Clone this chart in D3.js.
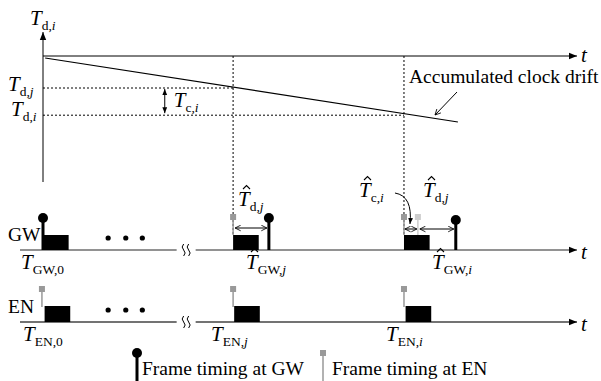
<!DOCTYPE html>
<html>
<head>
<meta charset="utf-8">
<script src="https://cdn.jsdelivr.net/npm/d3@7"></script>
<style>
  body { margin: 0; background: #fff; }
  text { font-family: "Liberation Serif", "Times New Roman", serif; fill: #000; }
</style>
</head>
<body>
<div id="chart"></div>
<script>
// 图的时间轴单位: 0..100 对应上方 t 轴
const width = 601;
const height = 381;

// 上图: 累积时钟漂移
const driftT = [0.4, 77.7];          // 漂移直线的起止时刻
const driftV = [0.25, 8.25];         // 对应漂移量
const syncT = [35.6, 67.6];          // 同步时刻 j, i
const syncDrift = [4.0, 7.4];        // T_d,j , T_d,i

// 下图: 帧
const gwFrameStart = [0, 35.6, 67.6];    // GW 帧块起点
const gwTiming = [0, 42.3, 77.3];        // GW 帧定时
const enFrameStart = [0.3, 35.8, 67.9];  // EN 帧块起点
const enTiming = [-0.2, 35.6, 67.6];     // EN 帧定时
const correctedEN = [70.2];              // 修正后的 EN 定时
const frameLen = 4.8;
const dotTimes = [12.2, 15.5, 18.6];
const breakT = 26.9;

var x = d3.scaleLinear().domain([0, 100]).range([43, 577]);
var yD = d3.scaleLinear().domain([0, 10]).range([56, 136]);

const rowGW = 250, rowEN = 322, blockH = 15;
const fs = 19.5;

var svg = d3.select("#chart").append("svg")
    .attr("width", width).attr("height", height);

define_markers();

function define_markers() {
    var defs = svg.append("defs");
    defs.append("marker").attr("id", "arrow")
        .attr("viewBox", "0 -5 10 10").attr("refX", 10).attr("refY", 0)
        .attr("markerUnits", "userSpaceOnUse")
        .attr("markerWidth", 9).attr("markerHeight", 8)
        .attr("orient", "auto-start-reverse")
        .append("path").attr("d", "M0,-4L10,0L0,4Z").attr("fill", "#000");
    defs.append("marker").attr("id", "small")
        .attr("viewBox", "0 -5 10 10").attr("refX", 10).attr("refY", 0)
        .attr("markerUnits", "userSpaceOnUse")
        .attr("markerWidth", 6).attr("markerHeight", 6)
        .attr("orient", "auto-start-reverse")
        .append("path").attr("d", "M0,-4L10,0L0,4Z").attr("fill", "#000");
    defs.append("marker").attr("id", "chev")
        .attr("viewBox", "0 -5 10 10").attr("refX", 9).attr("refY", 0)
        .attr("markerUnits", "userSpaceOnUse")
        .attr("markerWidth", 7).attr("markerHeight", 7)
        .attr("orient", "auto-start-reverse")
        .append("path").attr("d", "M1,-4L9,0L1,4").attr("fill", "none")
        .attr("stroke", "#000").attr("stroke-width", 1.2);
}

// 数学标签 T_{sub}
function mathT(px, py, sub, hat) {
    var t = svg.append("text").attr("x", px).attr("y", py);
    t.append("tspan").attr("font-style", "italic").attr("font-size", 21).text("T");
    sub.forEach(function (s, k) {
        var ts = t.append("tspan").attr("font-size", 13.5).text(s[0]);
        if (s[1]) ts.attr("font-style", "italic");
        if (k === 0) ts.attr("dy", 5);
    });
    if (hat) {
        // 帽子符号用折线画
        svg.append("path")
            .attr("d", "M" + (px + 5) + "," + (py - 17) + " l3.5,-3.5 l3.5,3.5")
            .attr("fill", "none").attr("stroke", "#000").attr("stroke-width", 1.1);
    }
}

function line(x1, y1, x2, y2) {
    return svg.append("line").attr("x1", x1).attr("y1", y1)
        .attr("x2", x2).attr("y2", y2).attr("stroke", "#000");
}

// ---- 上图 ----
line(x(0), 182, x(0), 32).attr("marker-end", "url(#arrow)");
line(x(0), yD(0), x(100), yD(0)).attr("marker-end", "url(#arrow)");
svg.append("text").attr("x", 581).attr("y", 62).attr("font-size", 21)
    .attr("font-style", "italic").text("t");

line(x(driftT[0]), yD(driftV[0]), x(driftT[1]), yD(driftV[1])).attr("stroke-width", 1.2);

// 虚线
syncT.forEach(function (t, k) {
    line(x(0), yD(syncDrift[k]), x(t), yD(syncDrift[k]))
        .attr("stroke-dasharray", "2,2");
    line(x(t), yD(0), x(t), rowGW - blockH)
        .attr("stroke-dasharray", "2,2");
});

// T_c,i 双箭头
var tcX = x(22.8);
line(tcX, yD(syncDrift[0]) + 1, tcX, yD(syncDrift[1]) - 2)
    .attr("marker-start", "url(#small)").attr("marker-end", "url(#small)");
mathT(tcX + 9, 107, [["c", false], [",", false], ["i", true]]);

mathT(30, 25, [["d", false], [",", false], ["i", true]]);
mathT(8, 91, [["d", false], [",", false], ["j", true]]);
mathT(11, 116, [["d", false], [",", false], ["i", true]]);

svg.append("text").attr("x", 409).attr("y", 83).attr("font-size", fs)
    .text("Accumulated clock drift");
line(457, 92, 435, 115).attr("marker-end", "url(#chev)");

// ---- 下图 ----
function axisRow(y0, col) {
    line(20, y0, x(breakT) - 10, y0).attr("stroke", col).attr("stroke-width", 1.5);
    line(x(breakT) + 9, y0, x(100), y0).attr("stroke", col).attr("stroke-width", 1.5)
        .attr("marker-end", "url(#arrow)");
    // 断裂符号
    [-3, 2].forEach(function (d) {
        svg.append("path")
            .attr("d", "M" + (x(breakT) + d) + "," + (y0 - 6) +
                " q-3,3 0,6 q3,3 0,6")
            .attr("fill", "none").attr("stroke", "#000").attr("stroke-width", 1);
    });
    svg.selectAll(null).data(dotTimes).enter().append("circle")
        .attr("cx", d => x(d)).attr("cy", y0 - 12).attr("r", 2.6).attr("fill", "#000");
}
axisRow(rowGW, "#6e6e6e");
axisRow(rowEN, "#444");
svg.append("text").attr("x", 581).attr("y", 259).attr("font-size", 21)
    .attr("font-style", "italic").text("t");
svg.append("text").attr("x", 581).attr("y", 331).attr("font-size", 21)
    .attr("font-style", "italic").text("t");

svg.append("text").attr("x", 8).attr("y", 241).attr("font-size", fs).text("GW");
svg.append("text").attr("x", 8).attr("y", 313).attr("font-size", fs).text("EN");

// 帧块
svg.selectAll(null).data(gwFrameStart).enter().append("rect")
    .attr("x", d => x(d)).attr("y", rowGW - blockH)
    .attr("width", x(frameLen) - x(0)).attr("height", blockH).attr("fill", "#000");
svg.selectAll(null).data(enFrameStart).enter().append("rect")
    .attr("x", d => x(d)).attr("y", rowEN - blockH - 1)
    .attr("width", x(frameLen) - x(0)).attr("height", blockH + 1).attr("fill", "#000");

// GW 定时 (黑色圆头)
function gwPin(px, top, bottom) {
    line(px, top, px, bottom).attr("stroke-width", 3);
    svg.append("circle").attr("cx", px).attr("cy", top).attr("r", 5).attr("fill", "#000");
}
gwTiming.forEach(function (t, k) {
    gwPin(x(t), k === 2 ? 220 : 218, rowGW);
});

// EN 定时 (灰色方头)
function enPin(px, top, bottom, col) {
    line(px, top + 3, px, bottom).attr("stroke", col).attr("stroke-width", 1.5);
    svg.append("rect").attr("x", px - 3).attr("y", top - 3)
        .attr("width", 6).attr("height", 6).attr("fill", col);
}
enTiming.forEach(function (t) {
    enPin(x(t), 289, rowEN - blockH, "#999");
});
// GW 行中 EN 的估计定时
syncT.forEach(function (t) {
    enPin(x(t), 217, rowGW - blockH, "#999");
});
correctedEN.forEach(function (t) {
    enPin(x(t), 217, rowGW - blockH, "#ccc");
});

// 双箭头
function dbl(x1, x2, y0) {
    line(x1, y0, x2, y0).attr("marker-start", "url(#chev)").attr("marker-end", "url(#chev)");
}
dbl(x(syncT[0]) + 2, x(gwTiming[1]) - 2, 228);
dbl(x(syncT[1]) + 1, x(correctedEN[0]) - 1, 229);
dbl(x(correctedEN[0]) + 2, x(gwTiming[2]) - 2, 229);

// T^_c,i 弯箭头
svg.append("path")
    .attr("d", "M" + (x(syncT[1]) - 9) + ",193 Q" + (x(syncT[1]) + 9) + ",196 " +
        (x(syncT[1]) + 6) + ",224")
    .attr("fill", "none").attr("stroke", "#000")
    .attr("marker-end", "url(#small)");

mathT(238, 206, [["d", false], [",", false], ["j", true]], true);
mathT(359, 197, [["c", false], [",", false], ["i", true]], true);
mathT(423, 197, [["d", false], [",", false], ["j", true]], true);

mathT(21, 269, [["GW,0", false]]);
mathT(246, 269, [["GW,", false], ["j", true]], true);
mathT(432, 269, [["GW,", false], ["i", true]], true);
mathT(23, 341, [["EN,0", false]]);
mathT(211, 341, [["EN,", false], ["j", true]]);
mathT(386, 341, [["EN,", false], ["i", true]]);

// 图例
gwPin(137, 353, 381);
svg.append("text").attr("x", 142).attr("y", 375).attr("font-size", fs)
    .text("Frame timing at GW");
enPin(323, 353, 381, "#999");
svg.append("text").attr("x", 332).attr("y", 375).attr("font-size", fs)
    .text("Frame timing at EN");
</script>
</body>
</html>
